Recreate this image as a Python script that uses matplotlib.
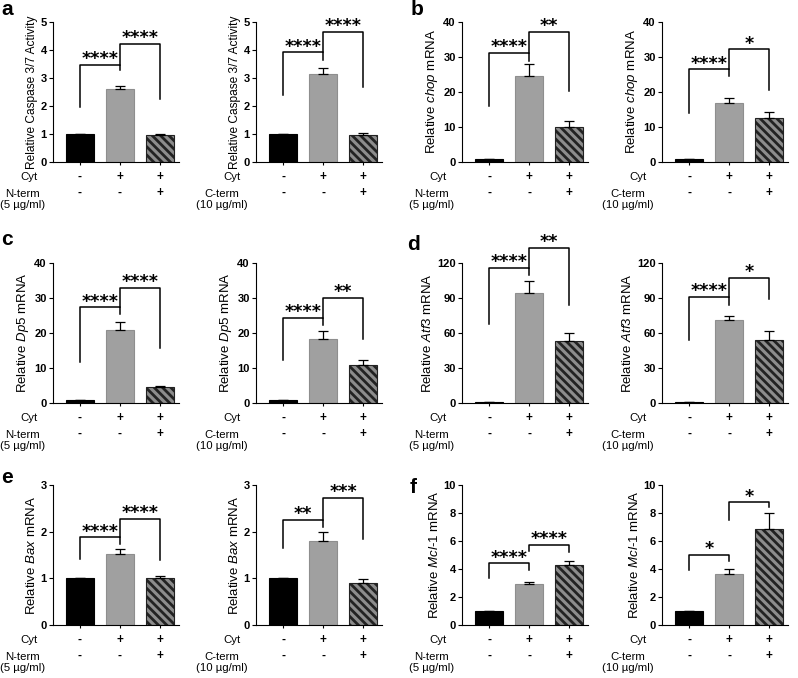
import numpy as np
import matplotlib
matplotlib.use('Agg')
import matplotlib.pyplot as plt

plt.rcParams['font.family'] = ['Liberation Sans', 'DejaVu Sans']
plt.rcParams['mathtext.fontset'] = 'custom'
plt.rcParams['mathtext.rm'] = 'Liberation Sans'
plt.rcParams['mathtext.it'] = 'Liberation Sans:italic'
plt.rcParams['hatch.linewidth'] = 2.0
plt.rcParams['axes.linewidth'] = 0.8

# bar heights (mean) and upper error, order: control, Cyt, Cyt + peptide
casp_n = [1.0, 2.61, 0.97]
casp_n_err = [0.0, 0.09, 0.02]
casp_c = [1.0, 3.13, 0.96]
casp_c_err = [0.0, 0.24, 0.07]
chop_n = [1.0, 24.5, 10.0]
chop_n_err = [0.0, 3.4, 1.7]
chop_c = [1.0, 17.0, 12.5]
chop_c_err = [0.0, 1.2, 1.7]
dp5_n = [1.0, 21.0, 4.6]
dp5_n_err = [0.0, 2.2, 0.2]
dp5_c = [1.0, 18.4, 11.0]
dp5_c_err = [0.0, 2.2, 1.2]
atf3_n = [0.6, 94.5, 53.0]
atf3_n_err = [0.0, 10.0, 7.0]
atf3_c = [0.6, 71.0, 54.3]
atf3_c_err = [0.0, 3.7, 7.2]
bax_n = [1.0, 1.53, 1.0]
bax_n_err = [0.0, 0.09, 0.05]
bax_c = [1.0, 1.80, 0.90]
bax_c_err = [0.0, 0.20, 0.09]
mcl_n = [1.0, 2.93, 4.29]
mcl_n_err = [0.0, 0.17, 0.30]
mcl_c = [1.0, 3.62, 6.86]
mcl_c_err = [0.0, 0.40, 1.13]

# significance brackets: (bar i, bar j, left foot, right foot, top, stars)
casp_n_sig = [(0, 1, 1.96, 3.27, 3.48, '****'), (1, 2, 3.48, 2.26, 4.21, '****')]
casp_c_sig = [(0, 1, 2.41, 3.65, 3.92, '****'), (1, 2, 3.92, 2.69, 4.65, '****')]
chop_n_sig = [(0, 1, 16.0, 28.8, 31.2, '****'), (1, 2, 31.2, 20.4, 37.2, '**')]
chop_c_sig = [(0, 1, 14.0, 24.6, 26.5, '****'), (1, 2, 26.5, 20.6, 32.2, '*')]
dp5_n_sig = [(0, 1, 11.8, 25.4, 27.3, '****'), (1, 2, 27.3, 15.8, 33.0, '****')]
dp5_c_sig = [(0, 1, 12.2, 22.2, 24.3, '****'), (1, 2, 24.3, 18.2, 30.0, '**')]
atf3_n_sig = [(0, 1, 67.9, 109.5, 115.8, '****'), (1, 2, 115.8, 84.2, 133.0, '**')]
atf3_c_sig = [(0, 1, 53.7, 83.9, 90.9, '****'), (1, 2, 90.9, 89.5, 107.4, '*')]
bax_n_sig = [(0, 1, 1.42, 1.73, 1.88, '****'), (1, 2, 1.88, 1.40, 2.27, '****')]
bax_c_sig = [(0, 1, 1.65, 2.11, 2.25, '**'), (1, 2, 2.25, 1.85, 2.72, '***')]
mcl_n_sig = [(0, 1, 3.38, 3.93, 4.40, '****'), (1, 2, 5.29, 5.24, 5.71, '****')]
mcl_c_sig = [(0, 1, 3.92, 4.56, 4.99, '*'), (1, 2, 7.52, 8.46, 8.77, '*')]

cyt_signs = ['-', '+', '+']
pep_signs = ['-', '-', '+']
n_label = 'N-term\n(5 \u00b5g/ml)'
c_label = 'C-term\n(10 \u00b5g/ml)'

casp_lab = 'Relative Caspase 3/7 Activity'
chop_lab = r'Relative $\mathit{chop}$ mRNA'
dp5_lab = r'Relative $\mathit{Dp5}$ mRNA'
atf3_lab = r'Relative $\mathit{Atf3}$ mRNA'
bax_lab = r'Relative $\mathit{Bax}$ mRNA'
mcl_lab = r'Relative $\mathit{Mcl}$-$\mathit{1}$ mRNA'

panels = [
    (casp_n, casp_n_err, casp_n_sig, casp_lab, 5, 1, n_label),
    (casp_c, casp_c_err, casp_c_sig, casp_lab, 5, 1, c_label),
    (chop_n, chop_n_err, chop_n_sig, chop_lab, 40, 10, n_label),
    (chop_c, chop_c_err, chop_c_sig, chop_lab, 40, 10, c_label),
    (dp5_n, dp5_n_err, dp5_n_sig, dp5_lab, 40, 10, n_label),
    (dp5_c, dp5_c_err, dp5_c_sig, dp5_lab, 40, 10, c_label),
    (atf3_n, atf3_n_err, atf3_n_sig, atf3_lab, 120, 30, n_label),
    (atf3_c, atf3_c_err, atf3_c_sig, atf3_lab, 120, 30, c_label),
    (bax_n, bax_n_err, bax_n_sig, bax_lab, 3, 1, n_label),
    (bax_c, bax_c_err, bax_c_sig, bax_lab, 3, 1, c_label),
    (mcl_n, mcl_n_err, mcl_n_sig, mcl_lab, 10, 2, n_label),
    (mcl_c, mcl_c_err, mcl_c_sig, mcl_lab, 10, 2, c_label),
]

W, H = 798, 678
col_left = [53, 256, 462, 662]
row_base = [162, 403, 625]
ax_w, ax_h = 126, 140

fig = plt.figure(figsize=(W / 100, H / 100), dpi=100)

face = ['black', '#a0a0a0', '#8c8c8c']
edge = ['black', '#8e8e8e', '#222222']
hatch = [None, None, '\\\\\\\\']

for k, (m, e, sig, ylab, ymax, step, pep) in enumerate(panels):
    r, c = divmod(k, 4)
    ax = fig.add_axes([col_left[c] / W, (H - row_base[r]) / H, ax_w / W, ax_h / H])
    x = np.arange(3)
    for xi in x:
        ax.bar(xi, m[xi], width=0.68, color=face[xi], edgecolor=edge[xi],
               hatch=hatch[xi], linewidth=0.8, zorder=2)
    ax.errorbar(x, m, yerr=[np.zeros(3), e], fmt='none', ecolor='black',
                elinewidth=0.9, capsize=3.5, capthick=0.9, zorder=3)
    ax.set_xlim(-0.675, 2.475)
    ax.set_ylim(0, ymax)
    ax.set_yticks(np.arange(0, ymax + step / 2, step))
    ax.set_xticks(x)
    ax.set_xticklabels([])
    ax.spines['top'].set_visible(False)
    ax.spines['right'].set_visible(False)
    ax.tick_params(axis='y', labelsize=8, length=3, width=0.8, pad=1.5)
    ax.tick_params(axis='x', length=2.5, width=0.8)
    for t in ax.get_yticklabels():
        t.set_fontweight('bold')
    fs = 8.6 if 'Caspase' in ylab else 9.5
    ax.set_ylabel(ylab, fontsize=fs, labelpad=2)

    for i, j, yl, yr, top, lab in sig:
        ax.plot([i, i, j, j], [yl, top, top, yr], color='black', lw=1.1,
                clip_on=False, zorder=4)
        ax.annotate(lab, xy=((i + j) / 2, top), xytext=(0, 0.5),
                    textcoords='offset points', ha='center', va='baseline',
                    fontsize=12.5, fontweight='bold', family='DejaVu Sans',
                    annotation_clip=False)

    ax.annotate('Cyt', xy=(0, 0), xycoords='axes fraction', xytext=(-11, -11),
                textcoords='offset points', ha='right', va='center', fontsize=8.2)
    ax.annotate(pep, xy=(0, 0), xycoords='axes fraction', xytext=(-6, -27),
                textcoords='offset points', ha='right', va='center',
                multialignment='center', linespacing=1.05, fontsize=8.2)
    for xi in x:
        ax.annotate(cyt_signs[xi], xy=(xi, 0), xycoords=ax.get_xaxis_transform(),
                    xytext=(0, -11), textcoords='offset points', ha='center',
                    va='center', fontsize=8.5, fontweight='bold')
        ax.annotate(pep_signs[xi], xy=(xi, 0), xycoords=ax.get_xaxis_transform(),
                    xytext=(0, -22.5), textcoords='offset points', ha='center',
                    va='center', fontsize=8.5, fontweight='bold')

letters = ['a', 'b', 'c', 'd', 'e', 'f']
letter_xy = [(1, 15), (411, 15), (1, 245), (407, 250), (1, 483), (410, 493)]
for s, (px, py) in zip(letters, letter_xy):
    fig.text(px / W, 1 - py / H, s, fontsize=15, fontweight='bold', va='baseline')

fig.savefig('out.png', dpi=100)
